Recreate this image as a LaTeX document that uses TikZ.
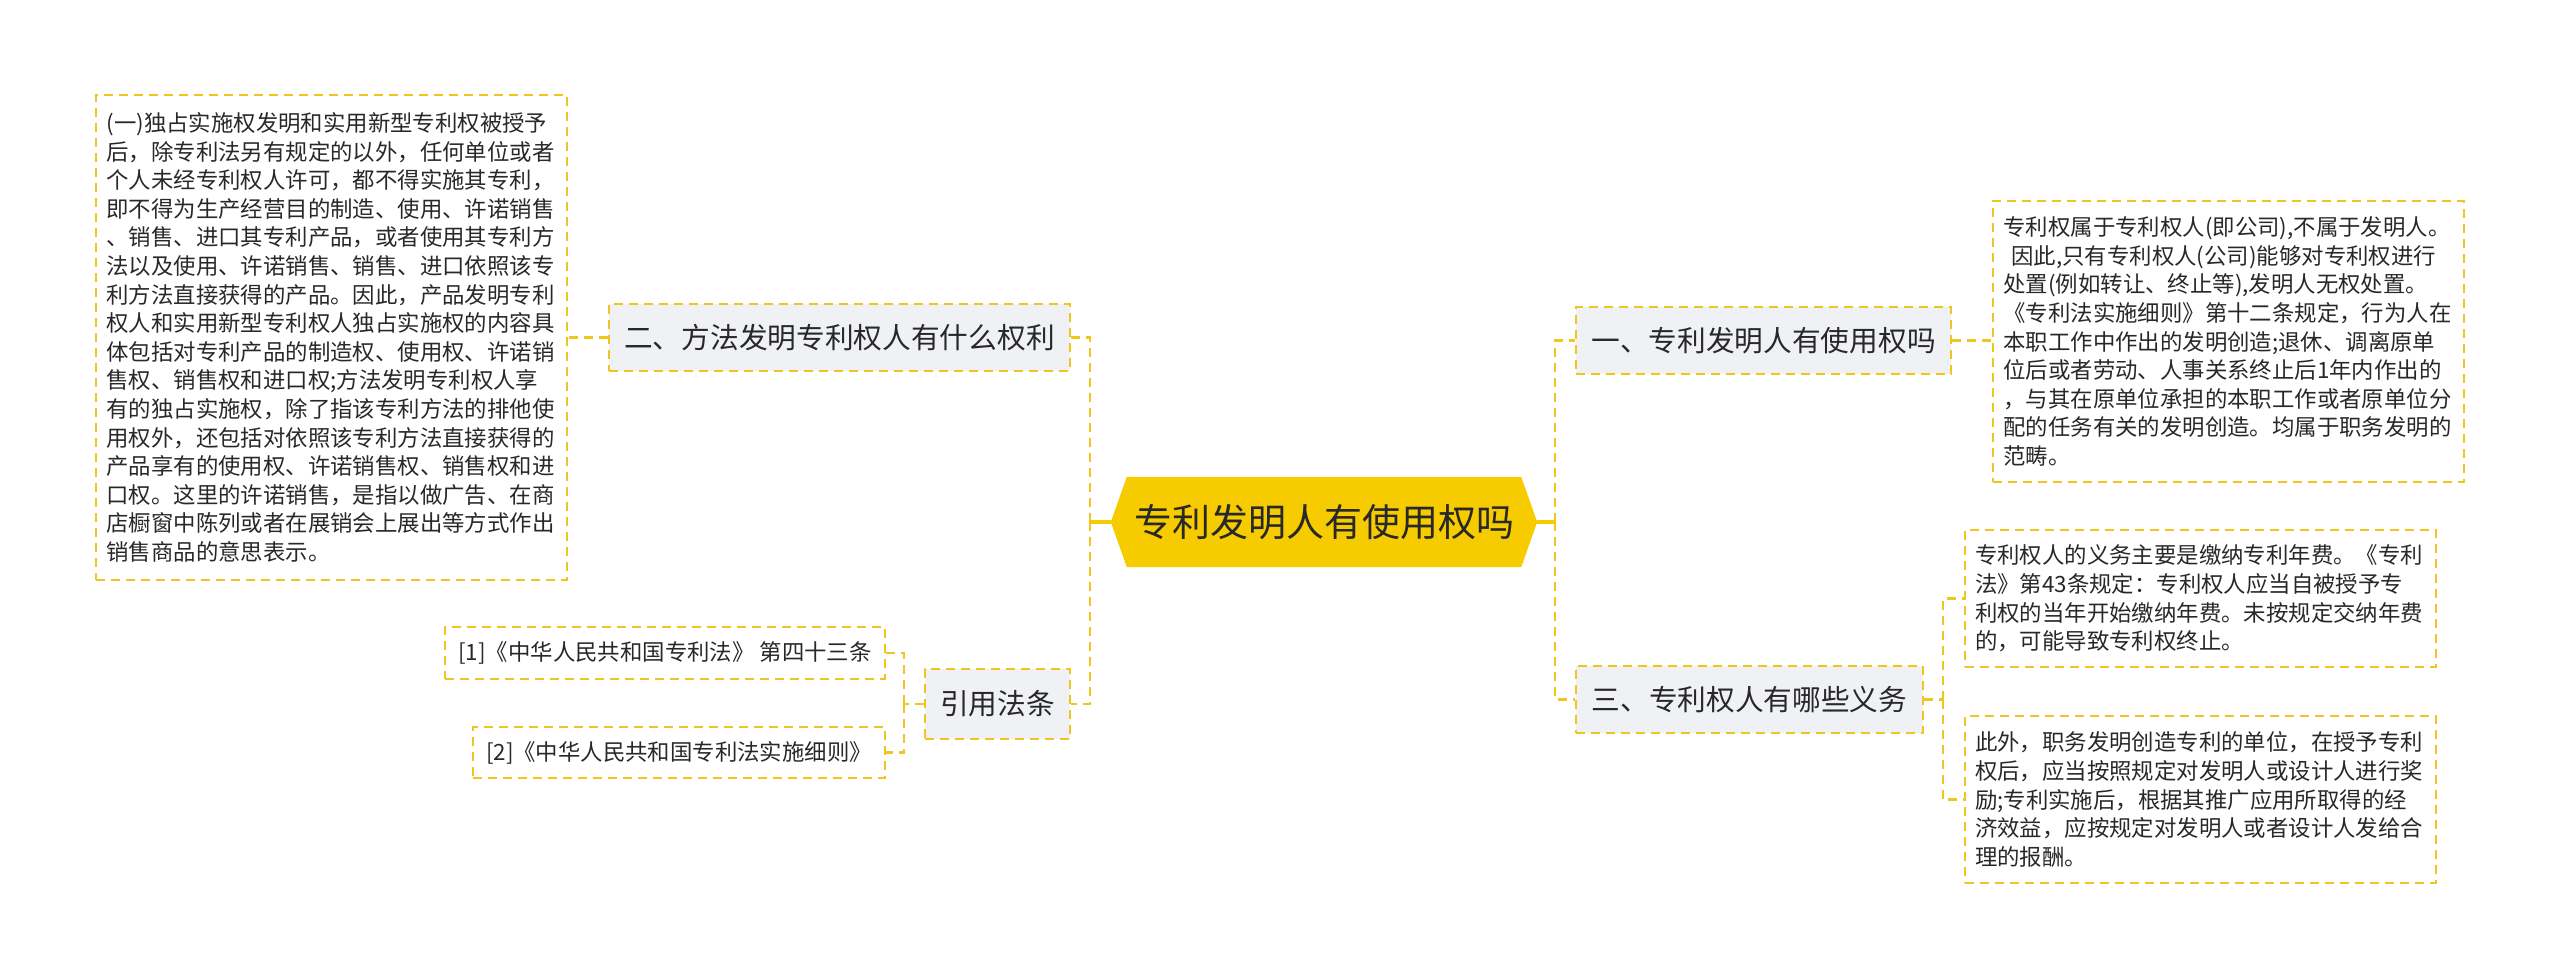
\documentclass[tikz,border=0pt]{standalone}
\usepackage{fontspec}
\setmainfont{Noto Sans CJK SC}
\usetikzlibrary{backgrounds}
\definecolor{linkyellow}{RGB}{240,198,30}
\definecolor{rootgold}{RGB}{246,204,0}
\definecolor{topicgrey}{RGB}{239,241,244}
\definecolor{inktext}{RGB}{40,40,40}
\tikzset{
  topic/.style={draw=linkyellow, fill=topicgrey, line width=2pt, dash pattern=on 9pt off 6pt, text=inktext, font=\fontsize{28.7}{34}\selectfont, minimum height=67pt, inner xsep=14pt},
  detail/.style={draw=linkyellow, line width=2pt, dash pattern=on 9pt off 6pt, text=inktext, font=\fontsize{22.4}{28.6}\selectfont, align=left, text width=450pt, inner xsep=10.5pt},
  refbox/.style={draw=linkyellow, line width=2pt, dash pattern=on 9pt off 6pt, text=inktext, font=\fontsize{22.4}{28.6}\selectfont, inner xsep=13pt},
  conn/.style={draw=linkyellow, line width=2.5pt, dash pattern=on 9pt off 6pt},
  rootstem/.style={draw=rootgold, line width=3.5pt}
}
\begin{document}
\begin{tikzpicture}[x=1pt,y=-1pt]
\useasboundingbox (0,0) rectangle (2560,979);

% centre topic
\node[text=inktext, font=\fontsize{38}{44}\selectfont, minimum width=426pt, minimum height=90pt, inner sep=0pt] (root) at (1324,522) {专利发明人有使用权吗};
\begin{scope}[on background layer]
\fill[rootgold] ([xshift=16pt]root.north west) -- ([xshift=-16pt]root.north east) -- (root.east) -- ([xshift=-16pt]root.south east) -- ([xshift=16pt]root.south west) -- (root.west) -- cycle;
\end{scope}

% main branches
\node[topic, minimum width=461pt] (methodRight) at (839.5,337.5) {二、方法发明专利权人有什么权利};
\node[topic, minimum width=145pt, minimum height=70pt] (lawRefs) at (997.5,704) {引用法条};
\node[topic, minimum width=375pt] (useRight) at (1763.5,340.5) {一、专利发明人有使用权吗};
\node[topic, minimum width=347pt] (dutyNode) at (1749.5,699.5) {三、专利权人有哪些义务};

% leaves
\node[detail, minimum height=485pt] (rightsDetail) at (331.5,337.5) {(一)独占实施权发明和实用新型专利权被授予\\
后，除专利法另有规定的以外，任何单位或者\\
个人未经专利权人许可，都不得实施其专利，\\
即不得为生产经营目的制造、使用、许诺销售\\
、销售、进口其专利产品，或者使用其专利方\\
法以及使用、许诺销售、销售、进口依照该专\\
利方法直接获得的产品。因此，产品发明专利\\
权人和实用新型专利权人独占实施权的内容具\\
体包括对专利产品的制造权、使用权、许诺销\\
售权、销售权和进口权;方法发明专利权人享\\
有的独占实施权，除了指该专利方法的排他使\\
用权外，还包括对依照该专利方法直接获得的\\
产品享有的使用权、许诺销售权、销售权和进\\
口权。这里的许诺销售，是指以做广告、在商\\
店橱窗中陈列或者在展销会上展出等方式作出\\
销售商品的意思表示。};
\node[refbox, minimum width=438pt, minimum height=52pt] (ref1) at (665,653) {[1]《中华人民共和国专利法》 第四十三条};
\node[refbox, minimum width=410pt, minimum height=51pt] (ref2) at (679,752.5) {[2]《中华人民共和国专利法实施细则》};
\node[detail, minimum height=281pt] (useDetail) at (2228.5,341.5) {专利权属于专利权人(即公司),不属于发明人。\\
\hspace*{8pt}因此,只有专利权人(公司)能够对专利权进行\\
处置(例如转让、终止等),发明人无权处置。\\
《专利法实施细则》第十二条规定，行为人在\\
本职工作中作出的发明创造;退休、调离原单\\
位后或者劳动、人事关系终止后1年内作出的\\
，与其在原单位承担的本职工作或者原单位分\\
配的任务有关的发明创造。均属于职务发明的\\
范畴。};
\node[detail, minimum height=137pt] (dutyDetail) at (2200,598.5) {专利权人的义务主要是缴纳专利年费。《专利\\
法》第43条规定：专利权人应当自被授予专\\
利权的当年开始缴纳年费。未按规定交纳年费\\
的，可能导致专利权终止。};
\node[detail, minimum height=167pt] (rewardDetail) at (2200,799.5) {此外，职务发明创造专利的单位，在授予专利\\
权后，应当按照规定对发明人或设计人进行奖\\
励;专利实施后，根据其推广应用所取得的经\\
济效益，应按规定对发明人或者设计人发给合\\
理的报酬。};

% connectors
\coordinate (leftHub) at (1090,522);
\coordinate (rightHub) at (1555,522);
\coordinate (lawHub) at (904,704);
\coordinate (dutyHub) at (1943,699.5);
\draw[rootstem] (root.west) -- (leftHub);
\draw[rootstem] (root.east) -- (rightHub);
\draw[conn] (leftHub) |- (methodRight.east);
\draw[conn] (leftHub) |- (lawRefs.east);
\draw[conn] (rightHub) |- (useRight.west);
\draw[conn] (rightHub) |- (dutyNode.west);
\draw[conn] (methodRight.west) -- (rightsDetail.east);
\draw[conn] (useRight.east) -- (useRight.east -| useDetail.west);
\draw[conn] (lawRefs.west) -- (lawHub);
\draw[conn] (lawHub) |- (ref1.east);
\draw[conn] (lawHub) |- (ref2.east);
\draw[conn] (dutyNode.east) -- (dutyHub);
\draw[conn] (dutyHub) |- (dutyDetail.west);
\draw[conn] (dutyHub) |- (rewardDetail.west);
\end{tikzpicture}
\end{document}
